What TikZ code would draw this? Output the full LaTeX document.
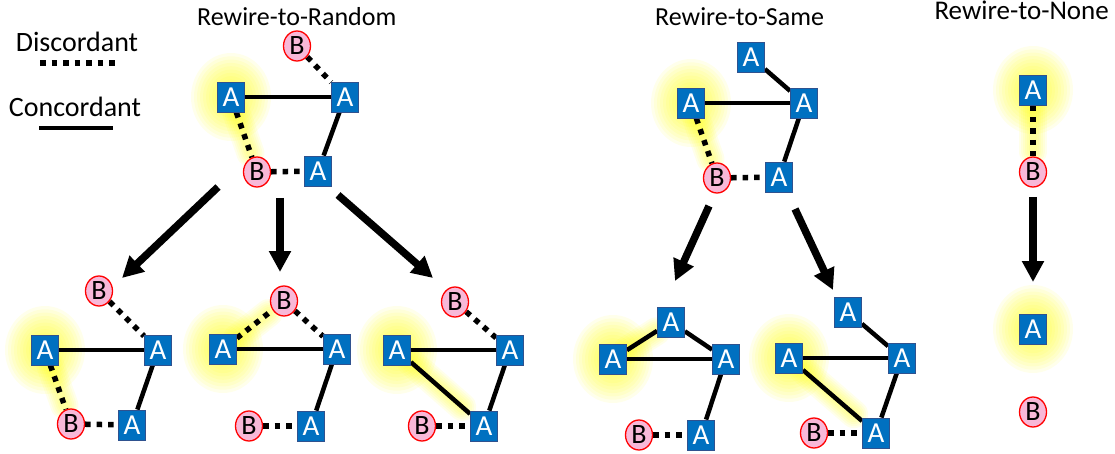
\documentclass[tikz,border=0pt]{standalone}
\usepackage{fontspec}
\setmainfont{Carlito}
\usetikzlibrary{shapes.geometric,arrows.meta,calc}
\pgfdeclarelayer{glowlayer}
\pgfdeclarelayer{edgelayer}
\pgfsetlayers{glowlayer,edgelayer,main}
\definecolor{ablue}{RGB}{0,112,192}
\definecolor{aborder}{RGB}{47,82,143}
\definecolor{bpink}{RGB}{248,184,216}
\definecolor{glowy}{RGB}{255,255,0}
\tikzset{
 anode/.style={rectangle, fill=ablue, draw=aborder, line width=0.8pt, minimum width=27pt, minimum height=30pt, inner sep=0pt, text=white, font=\fontsize{29}{29}\selectfont},
 bnode/.style={ellipse, fill=bpink, draw=red, line width=1.3pt, minimum width=27pt, minimum height=30pt, inner sep=0pt, font=\fontsize{28}{28}\selectfont},
 conc/.style={line width=4.5pt},
 disc/.style={line width=5.5pt, dash pattern=on 5.5pt off 6pt},
 bigarrow/.style={line width=7.5pt, -{Triangle[length=21pt,width=21pt]}},
 titletext/.style={font=\fontsize{26}{26}\selectfont, inner sep=0pt},
}
\newcommand{\glowat}[1]{%
  \foreach \r in {40,37,...,16}
    \fill[glowy, opacity=0.08] (#1) ellipse ({\r pt} and {1.1*\r pt});}
\newcommand{\glowline}[2]{%
  \foreach \w in {28,24,...,6}
    \draw[glowy, opacity=0.08, line width=\w pt, line cap=round] (#1) -- ($(#1)!0.75!(#2)$);}
\begin{document}
\begin{tikzpicture}[x=1pt,y=-1pt]
\useasboundingbox (0,0) rectangle (1115,454);

% titles and legend
\node[titletext, anchor=base west] (t1) at (197,26) {Rewire-to-Random};
\node[titletext, anchor=base west] (t2) at (655,26) {Rewire-to-Same};
\node[titletext, anchor=base east, font=\fontsize{27}{27}\selectfont] (t3) at (1109,20) {Rewire-to-None};
\node[titletext, anchor=base, font=\fontsize{28}{28}\selectfont] (ld) at (77,52) {Discordant};
\node[titletext, anchor=base, font=\fontsize{28}{28}\selectfont] (lc) at (75,117) {Concordant};
\coordinate (ld1) at (40,63); \coordinate (ld2) at (115,63);
\coordinate (lc1) at (39,128); \coordinate (lc2) at (113,128);
\draw[disc] (ld1) -- (ld2);
\draw[conc] (lc1) -- (lc2);

% Rewire-to-Random top
\node[bnode] (rB1) at (297,46) {B};
\node[anode] (rA1) at (231,97) {A};
\node[anode] (rA2) at (345,97) {A};
\node[bnode] (rB2) at (257,172) {B};
\node[anode] (rA3) at (318,171) {A};
% bottom 1
\node[bnode] (pB1) at (99,291) {B};
\node[anode] (pA1) at (45,350) {A};
\node[anode] (pA2) at (158,350) {A};
\node[bnode] (pB2) at (71,424) {B};
\node[anode] (pA3) at (132,425) {A};
% bottom 2
\node[bnode] (qB1) at (284,301) {B};
\node[anode] (qA1) at (223,349) {A};
\node[anode] (qA2) at (337,349) {A};
\node[bnode] (qB2) at (249,426) {B};
\node[anode] (qA3) at (311,426) {A};
% bottom 3
\node[bnode] (uB1) at (455,302) {B};
\node[anode] (uA1) at (397,350) {A};
\node[anode] (uA2) at (510,350) {A};
\node[bnode] (uB2) at (422,426) {B};
\node[anode] (uA3) at (484,426) {A};
% Rewire-to-Same top
\node[anode] (sA0) at (751,57) {A};
\node[anode] (sA1) at (691,103) {A};
\node[anode] (sA2) at (804,103) {A};
\node[bnode] (sB) at (717,178) {B};
\node[anode] (sA3) at (779,177) {A};
% Same bottom left
\node[anode] (vA0) at (671,322) {A};
\node[anode] (vA1) at (613,359) {A};
\node[anode] (vA2) at (726,359) {A};
\node[bnode] (vB) at (639,435) {B};
\node[anode] (vA3) at (701,435) {A};
% Same bottom right
\node[anode] (wA0) at (848,312) {A};
\node[anode] (wA1) at (789,358) {A};
\node[anode] (wA2) at (902,358) {A};
\node[bnode] (wB) at (814,433) {B};
\node[anode] (wA3) at (876,433) {A};
% Rewire-to-None
\node[anode] (nA1) at (1033,90) {A};
\node[bnode] (nB1) at (1033,172) {B};
\node[anode] (nA2) at (1033,329) {A};
\node[bnode] (nB2) at (1033,412) {B};

% arrows
\coordinate (a1s) at (218,187); \coordinate (a1e) at (122,278);
\coordinate (a2s) at (280,198); \coordinate (a2e) at (280,272);
\coordinate (a3s) at (338,195); \coordinate (a3e) at (433,278);
\coordinate (a4s) at (709,206); \coordinate (a4e) at (675,281);
\coordinate (a5s) at (795,209); \coordinate (a5e) at (833,290);
\coordinate (a6s) at (1033,197); \coordinate (a6e) at (1033,282);
\foreach \i in {1,...,6} \draw[bigarrow] (a\i s) -- (a\i e);

\begin{pgfonlayer}{edgelayer}
  % random top
  \draw[disc] (rB1) -- (rA2);
  \draw[conc] (rA1) -- (rA2);
  \draw[disc] (rA1) -- (rB2);
  \draw[conc] (rA2) -- (rA3);
  \draw[disc] (rB2) -- (rA3);
  % bottom 1
  \draw[disc] (pB1) -- (pA2);
  \draw[conc] (pA1) -- (pA2);
  \draw[disc] (pA1) -- (pB2);
  \draw[conc] (pA2) -- (pA3);
  \draw[disc] (pB2) -- (pA3);
  % bottom 2
  \draw[disc] (qA1) -- (qB1);
  \draw[disc] (qB1) -- (qA2);
  \draw[conc] (qA1) -- (qA2);
  \draw[conc] (qA2) -- (qA3);
  \draw[disc] (qB2) -- (qA3);
  % bottom 3
  \draw[disc] (uB1) -- (uA2);
  \draw[conc] (uA1) -- (uA2);
  \draw[conc] (uA2) -- (uA3);
  \draw[conc] (uA1) -- (uA3);
  \draw[disc] (uB2) -- (uA3);
  % same top
  \draw[conc] (sA0) -- (sA2);
  \draw[conc] (sA1) -- (sA2);
  \draw[disc] (sA1) -- (sB);
  \draw[disc] (sB) -- (sA3);
  \draw[conc] (sA2) -- (sA3);
  % same bottom left
  \draw[conc] (vA1) -- (vA0);
  \draw[conc] (vA0) -- (vA2);
  \draw[conc] (vA1) -- (vA2);
  \draw[conc] (vA2) -- (vA3);
  \draw[disc] (vB) -- (vA3);
  % same bottom right
  \draw[conc] (wA0) -- (wA2);
  \draw[conc] (wA1) -- (wA2);
  \draw[conc] (wA2) -- (wA3);
  \draw[conc] (wA1) -- (wA3);
  \draw[disc] (wB) -- (wA3);
  % none
  \draw[disc] (nA1) -- (nB1);
\end{pgfonlayer}

\begin{pgfonlayer}{glowlayer}
  \glowat{rA1} \glowline{rA1}{rB2}
  \glowat{pA1} \glowline{pA1}{pB2}
  \glowat{qA1} \glowline{qA1}{qB1}
  \glowat{uA1} \glowline{uA1}{uA3}
  \glowat{sA1} \glowline{sA1}{sB}
  \glowat{vA1} \glowline{vA1}{vA0}
  \glowat{wA1} \glowline{wA1}{wA3}
  \glowat{nA1} \glowline{nA1}{nB1}
  \glowat{nA2}
\end{pgfonlayer}
\end{tikzpicture}
\end{document}
